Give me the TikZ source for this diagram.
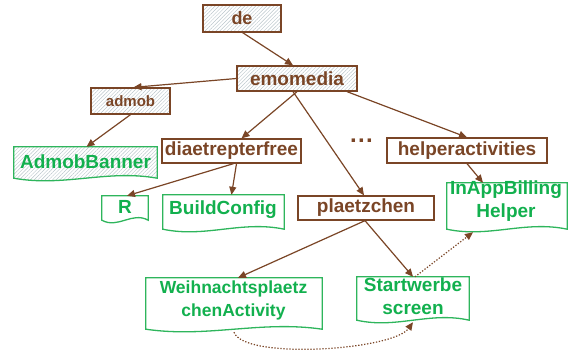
\documentclass[tikz,border=0pt]{standalone}
\usepackage{fontspec}
\setmainfont{Liberation Sans}
\usetikzlibrary{arrows.meta,calc,patterns.meta}
\definecolor{brn}{HTML}{7A4526}
\definecolor{grn}{HTML}{12B04E}
\definecolor{grnline}{HTML}{2EB55C}
\definecolor{hatch}{HTML}{B9C5CA}
\tikzset{
 hatched/.style={pattern={Lines[angle=45,distance=2.6pt,line width=0.45pt]}, pattern color=hatch},
 bbox/.style={draw=brn, line width=1.3pt, text=brn, font=\bfseries\fontsize{19}{23}\selectfont, inner sep=0pt},
 gtext/.style={text=grn, font=\bfseries\fontsize{19}{23}\selectfont, align=center, inner sep=0pt},
 gbox/.style={inner sep=0pt},
 link/.style={draw=brn, line width=1.2pt, -{Triangle[length=8pt,width=7pt]}},
 dlink/.style={link, dash pattern=on 1.3pt off 1.7pt}
}
\newcommand\docshape[2][]{%
 \path[draw=grnline, line width=1.3pt, #1] (#2.north west) -- (#2.north east) -- (#2.south east)
 .. controls ($(#2.south east)!0.35!(#2.south west)+(0,-9)$) and ($(#2.south east)!0.65!(#2.south west)+(0,9)$) .. (#2.south west) -- cycle;}
\begin{document}
\begin{tikzpicture}[x=1pt,y=-1pt]
\useasboundingbox (0,0) rectangle (569,350);
% brown boxes
\node[bbox, hatched, minimum width=78pt, minimum height=27pt, font=\bfseries\fontsize{18}{22}\selectfont] (de) at (242,18.5) {de};
\node[bbox, hatched, minimum width=120pt, minimum height=25pt] (emo) at (297,78.5) {emomedia};
\node[bbox, hatched, minimum width=79pt, minimum height=26pt, font=\bfseries\fontsize{15}{18}\selectfont] (admob) at (130.5,101) {admob};
\node[bbox, minimum width=139pt, minimum height=24pt] (diae) at (231.5,151) {diaetrepterfree};
\node[bbox, minimum width=160pt, minimum height=25pt] (help) at (467,150.5) {helperactivities};
\node[bbox, minimum width=136pt, minimum height=24pt] (plae) at (366,208) {plaetzchen};
\node[text=brn, font=\bfseries\fontsize{24}{26}\selectfont, inner sep=0pt] (dots) at (361.5,141) {.\hspace{1.3pt}.\hspace{1.3pt}.};
% green boxes
\node[gbox, minimum width=143pt, minimum height=31pt] (ab) at (85.5,162.5) {};
\docshape[hatched]{ab}
\node[gtext] (abt) at (85.5,162) {AdmobBanner};
\node[gbox, minimum width=46pt, minimum height=24pt] (r) at (125,208) {};
\docshape{r}
\node[gtext] (rt) at (125,207) {R};
\node[gbox, minimum width=121pt, minimum height=34pt] (bc) at (223.5,212) {};
\docshape{bc}
\node[gtext] (bct) at (223,210) {BuildConfig};
\node[gbox, minimum width=120pt, minimum height=46pt] (iab) at (507,206) {};
\docshape{iab}
\node[gtext] (iabt) at (506,201.5) {InAppBilling\\Helper};
\node[gbox, minimum width=176pt, minimum height=51pt] (wpa) at (234,303.5) {};
\docshape{wpa}
\node[gtext, font=\bfseries\fontsize{17.5}{23}\selectfont] (wpat) at (233.5,300) {Weihnachtsplaetz\\chenActivity};
\node[gbox, minimum width=112pt, minimum height=43pt] (sws) at (413,298.5) {};
\docshape{sws}
\node[gtext] (swst) at (413,296) {Startwerbe\\screen};
% connectors
\draw[link] (de.south) -- ([xshift=-4pt]emo.north);
\draw[link] (emo.west) -- ([xshift=3pt]admob.north);
\draw[link] (emo.south) -- ([xshift=10pt]diae.north);
\draw[link] ([xshift=-4pt]emo.south) -- ([xshift=-2pt]plae.north);
\draw[link] ([xshift=50pt]emo.south) -- (help.north);
\draw[link] (admob.south) -- ([xshift=1pt]ab.north);
\draw[link] ([xshift=2pt]diae.south) -- ([xshift=2pt]r.north);
\draw[link] ([xshift=5pt]diae.south) -- ([xshift=8pt]bc.north);
\draw[link] (help.south) -- ([xshift=-24pt]iab.north);
\draw[link] ([xshift=-1pt]plae.south) -- ([xshift=4pt]wpa.north);
\draw[link] ([xshift=-1pt]plae.south) -- (sws.north);
\draw[dlink] ([xshift=2pt]sws.north) -- ([xshift=-34pt,yshift=-3pt]iab.south);
\draw[dlink] ([yshift=-3pt]wpa.south) .. controls +(10,28) and +(-20,28) .. ([yshift=-2pt]sws.south);
\end{tikzpicture}
\end{document}
